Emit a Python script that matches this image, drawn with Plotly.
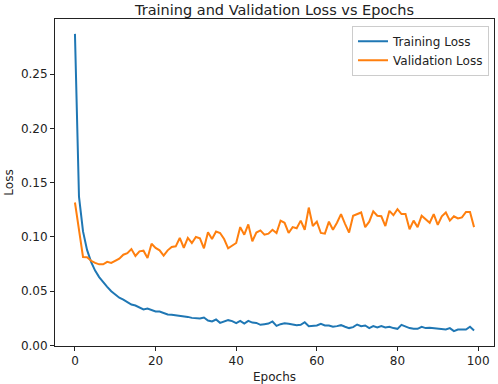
import plotly.graph_objects as go

epochs = list(range(100))

training_loss = [
    0.287, 0.137, 0.105, 0.088, 0.077, 0.069, 0.063, 0.058, 0.054, 0.050,
    0.047, 0.044, 0.0423, 0.0398, 0.0377, 0.0368, 0.0346, 0.0331, 0.0340, 0.0325,
    0.0313, 0.0313, 0.0300, 0.0285, 0.0282, 0.0279, 0.0273, 0.0267, 0.0263, 0.0254,
    0.0248, 0.0248, 0.0257, 0.0230, 0.0221, 0.0239, 0.0208, 0.0221, 0.0233, 0.0224,
    0.0205, 0.0227, 0.0202, 0.0227, 0.0211, 0.0208, 0.0190, 0.0196, 0.0202, 0.0221,
    0.0181, 0.0196, 0.0205, 0.0199, 0.0193, 0.0187, 0.0190, 0.0214, 0.0178, 0.0178,
    0.0184, 0.0199, 0.0184, 0.0184, 0.0172, 0.0178, 0.0187, 0.0172, 0.0160, 0.0169,
    0.0193, 0.0178, 0.0184, 0.0160, 0.0178, 0.0166, 0.0178, 0.0166, 0.0172, 0.0160,
    0.0153, 0.0190, 0.0172, 0.0160, 0.0153, 0.0153, 0.0172, 0.0160, 0.0163, 0.0160,
    0.0157, 0.0153, 0.0147, 0.0160, 0.0132, 0.0147, 0.0147, 0.0147, 0.0172, 0.0138,
]

validation_loss = [
    0.1317, 0.1066, 0.0815, 0.0812, 0.0780, 0.0760, 0.0747, 0.0747, 0.0770, 0.0760,
    0.0780, 0.0800, 0.0836, 0.0850, 0.0888, 0.0824, 0.0867, 0.0873, 0.0806, 0.0937,
    0.0898, 0.0876, 0.0827, 0.0876, 0.0907, 0.0913, 0.0990, 0.0900, 0.0990, 0.0944,
    0.0999, 0.0987, 0.0895, 0.1042, 0.0980, 0.1050, 0.1036, 0.0980, 0.0895, 0.0920,
    0.0944, 0.1090, 0.1020, 0.1115, 0.0960, 0.1040, 0.1060, 0.1020, 0.1030, 0.1066,
    0.1036, 0.1150, 0.1130, 0.1036, 0.1090, 0.1080, 0.1150, 0.1066, 0.1270, 0.1100,
    0.1140, 0.1036, 0.1030, 0.1140, 0.1066, 0.1130, 0.1210, 0.1120, 0.1040, 0.1195,
    0.1210, 0.1225, 0.1090, 0.1140, 0.1235, 0.1195, 0.1190, 0.1100, 0.1240, 0.1200,
    0.1256, 0.1210, 0.1210, 0.1070, 0.1150, 0.1090, 0.1195, 0.1160, 0.1130, 0.1210,
    0.1110, 0.1190, 0.1225, 0.1150, 0.1190, 0.1170, 0.1180, 0.1230, 0.1230, 0.1090,
]

x_ticks = [0, 20, 40, 60, 80, 100]
y_ticks = [0.00, 0.05, 0.10, 0.15, 0.20, 0.25]

FONT = "DejaVu Sans"

fig = go.Figure()
fig.add_trace(go.Scatter(x=epochs, y=training_loss, mode="lines", name="Training Loss",
                         line=dict(color="#1f77b4", width=2)))
fig.add_trace(go.Scatter(x=epochs, y=validation_loss, mode="lines", name="Validation Loss",
                         line=dict(color="#ff7f0e", width=2)))

axis_common = dict(
    showline=True, linecolor="#222222", linewidth=1, mirror=True,
    showgrid=False, zeroline=False, ticks="outside", ticklen=4, tickwidth=1,
    tickcolor="#222222", tickfont=dict(family=FONT, size=12, color="#222222"),
    automargin=False,
)

fig.update_layout(
    width=498, height=384,
    margin=dict(l=55, r=4, t=19, b=38),
    paper_bgcolor="white", plot_bgcolor="white",
    font=dict(family=FONT, size=12, color="#222222"),
    title=dict(text="Training and Validation Loss vs Epochs", x=0.5, xref="paper",
               y=1 - 9.5 / 384, yref="container", yanchor="middle", xanchor="center",
               font=dict(family=FONT, size=14.5, color="#222222")),
    xaxis=dict(range=[-4.95, 103.95], tickvals=x_ticks,
               title=dict(text="Epochs", standoff=5, font=dict(family=FONT, size=12)),
               **axis_common),
    yaxis=dict(range=[-0.0005, 0.3007], tickvals=y_ticks, tickformat=".2f",
               title=dict(text="Loss", standoff=4, font=dict(family=FONT, size=12)),
               **axis_common),
    legend=dict(x=0.9886, y=0.9795, xanchor="right", yanchor="top",
                bgcolor="rgba(255,255,255,0.85)", bordercolor="#cccccc", borderwidth=1,
                tracegroupgap=0,
                font=dict(family=FONT, size=12, color="#222222")),
    showlegend=True,
)

fig.write_html(
    "out.html",
    config={"displayModeBar": False},
    post_script="document.body.style.margin='0';document.body.style.overflow='hidden';",
)
